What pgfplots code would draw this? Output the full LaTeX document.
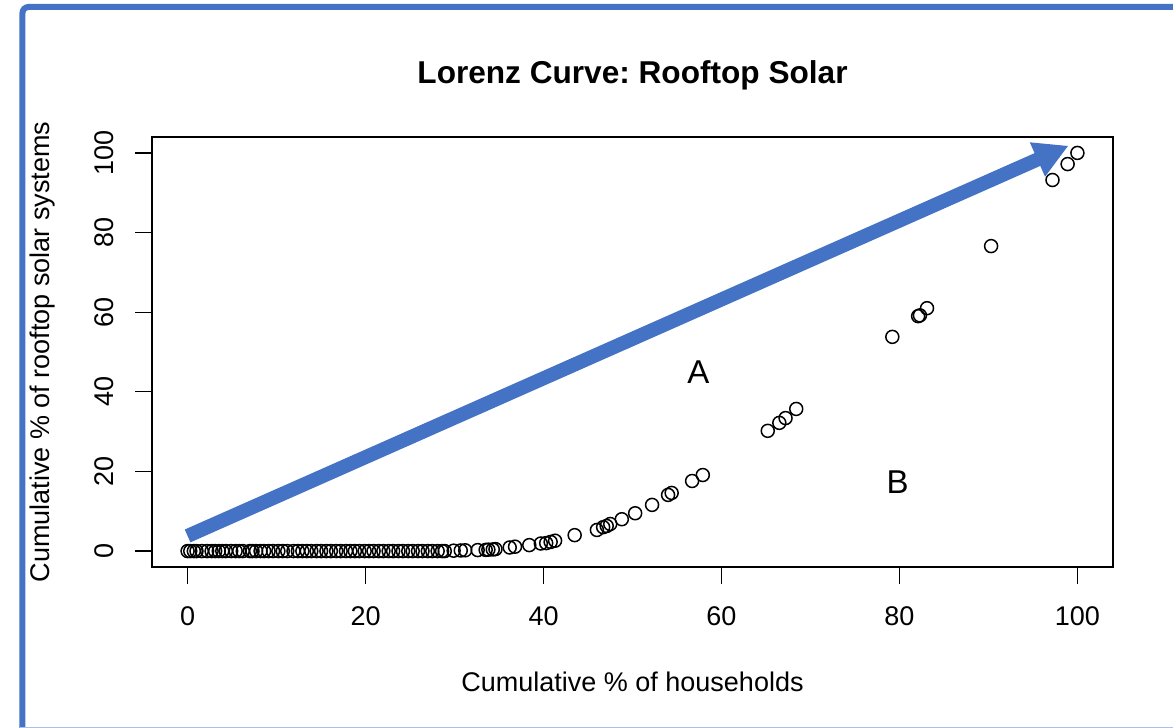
\documentclass[border=0pt]{standalone}
\usepackage{pgfplots}
\pgfplotsset{compat=1.18}
\usetikzlibrary{arrows.meta}
\usepackage{fontspec}
\setmainfont{Liberation Sans}
\definecolor{officeblue}{HTML}{4472C4}
\frenchspacing
\begin{document}
\begin{tikzpicture}
\useasboundingbox (-76pt,-80.5pt) rectangle (510.5pt,283.5pt);
\begin{axis}[
  at={(0,0)}, anchor=south west,
  scale only axis, width=480.5pt, height=215pt,
  xmin=-4, xmax=104, ymin=-4, ymax=104,
  xtick={0,20,...,100}, ytick={0,20,...,100},
  tick align=outside, tick pos=left,
  major tick length=8.5pt,
  axis line style={line width=0.6pt},
  every tick/.style={black, line width=0.6pt},
  /pgf/number format/assume math mode=true,
  tick label style={font=\fontsize{13.5}{16}\selectfont},
  yticklabel style={rotate=90, anchor=south},
  xticklabel shift=8pt,
  yticklabel shift=7pt,
  title={Lorenz Curve: Rooftop Solar},
  title style={font=\bfseries\fontsize{15.8}{19}\selectfont, at={(axis description cs:0.5,1.1163)}, anchor=center},
  xlabel={Cumulative \% of households},
  xlabel style={font=\fontsize{13.5}{16}\selectfont, at={(axis description cs:0.5,-0.2674)}, anchor=center},
  ylabel={Cumulative \% of rooftop solar systems},
  ylabel style={font=\fontsize{13.5}{16}\selectfont, at={(axis description cs:-0.1134,0.5)}, anchor=center},
  clip=false,
]
\addplot[only marks, mark=o, mark size=3.25pt, mark options={line width=0.75pt, black}] coordinates {
(0,0) (0.3,0) (0.7,0) (1.0,0) (1.6,0) (2.2,0) (2.7,0) (3.1,0) (3.5,0) (3.9,0)
(4.3,0) (4.9,0) (5.4,0) (5.8,0) (6.2,0) (7.0,0) (7.3,0) (7.7,0) (8.2,0) (8.6,0)
(9.1,0) (9.6,0) (10.2,0) (10.7,0) (11.2,0) (11.9,0) (12.4,0) (12.9,0) (13.4,0) (13.9,0)
(14.5,0) (15.0,0) (15.6,0) (16.1,0) (16.7,0) (17.2,0) (17.8,0) (18.3,0) (18.8,0) (19.3,0)
(19.9,0) (20.4,0) (20.9,0) (21.5,0) (22.0,0) (22.6,0) (23.1,0) (23.7,0) (24.2,0) (24.8,0)
(25.3,0) (25.9,0) (26.4,0) (27.0,0) (27.5,0) (28.1,0) (28.6,0) (28.9,0)
(29.9,0.1) (30.7,0.15) (31.2,0.2) (32.6,0.25) (33.5,0.3) (33.8,0.35) (34.3,0.4) (34.6,0.5)
(36.2,0.9) (36.8,1.1) (38.4,1.5) (39.7,1.9) (40.3,2.0) (40.8,2.3) (41.3,2.6) (43.5,4.0)
(46.0,5.3) (46.7,6.0) (47.1,6.3) (47.5,6.8) (48.8,8.0) (50.3,9.5) (52.2,11.6) (54.0,14.1)
(54.4,14.6) (56.7,17.6) (57.9,19.1) (65.2,30.2) (66.5,32.2) (67.2,33.4) (68.4,35.7)
(79.2,53.8) (82.1,59.0) (82.3,59.2) (83.1,61.0) (90.3,76.6) (97.2,93.2) (98.9,97.2) (100,100)
};
\draw[officeblue, line width=7pt, -{Triangle[length=17pt,width=17.5pt]}] (axis cs:0,3.8) -- (axis cs:99,101.8);
\node[font=\fontsize{16.5}{19}\selectfont] at (axis cs:57.4,45) {A};
\node[font=\fontsize{16.5}{19}\selectfont] at (axis cs:79.8,17.3) {B};
\end{axis}
\draw[officeblue, line width=3pt, rounded corners=3pt] (-64.75pt,-90pt) -- (-64.75pt,280pt) -- (520pt,280pt);
\draw[officeblue!45, line width=1pt] (-66pt,-80.3pt) -- (520pt,-80.3pt);
\end{tikzpicture}
\end{document}
